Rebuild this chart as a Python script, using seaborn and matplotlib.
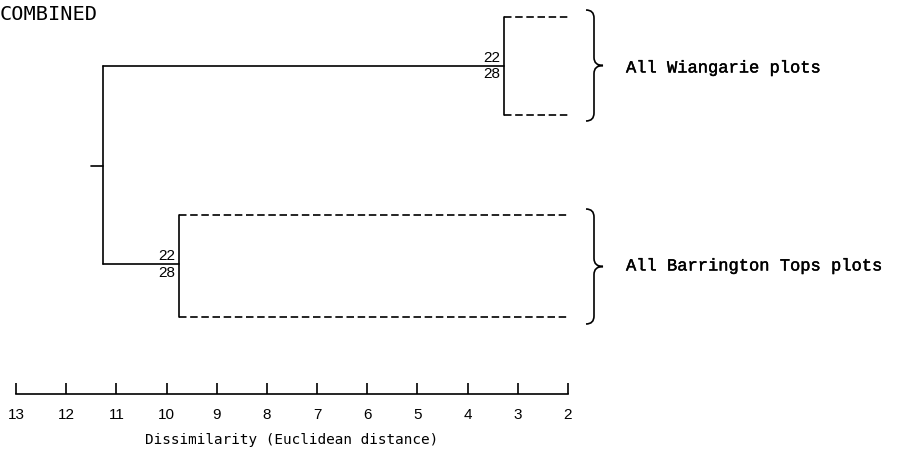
import matplotlib
matplotlib.use("Agg")
import matplotlib.pyplot as plt
from matplotlib.path import Path
from matplotlib.patches import PathPatch
import matplotlib.patheffects as pe
import numpy as np
import pandas as pd
import seaborn as sns

# ---------------- data ----------------
title = "COMBINED"
xlabel = "Dissimilarity (Euclidean distance)"
axis_ticks = [13, 12, 11, 10, 9, 8, 7, 6, 5, 4, 3, 2]
root_stub_start = 11.50          # dissimilarity where root stub begins
root_height = 11.27              # fusion of the two groups
cluster_names = ["All Wiangarie plots", "All Barrington Tops plots"]
cluster_heights = [3.28, 9.75]   # fusion level within each group
leaf_level = 2.0                 # dashed lines run to here
upper_labels = ["22", "22"]
lower_labels = ["28", "28"]

# ---------------- layout (pixels) ----------------
W, H = 897, 461
PX13 = 16.0            # pixel x of value 13
PXU = 50.18            # pixels per unit
def vx(px):
    return 13 - (px - PX13) / PXU
cluster_center_y = [66, 264]
cluster_top_y = [17, 215]
cluster_bot_y = [115, 317]
stub_y = 166
axis_y = 394

sns.set_style("white")
fig = plt.figure(figsize=(W / 100, H / 100), dpi=100)
ax = fig.add_axes([0, 0, 1, 1])
ax.set_xlim(vx(0), vx(W))
ax.set_ylim(H, 0)

# build segments
rows = []
def seg(name, kind, x0, y0, x1, y1):
    rows.append(dict(seg=name, kind=kind, x=x0, y=y0))
    rows.append(dict(seg=name, kind=kind, x=x1, y=y1))

seg("stub", "solid", root_stub_start, stub_y, root_height, stub_y)
seg("root", "solid", root_height, cluster_center_y[0], root_height, cluster_center_y[1])
for i, h in enumerate(cluster_heights):
    seg(f"h{i}", "solid", root_height, cluster_center_y[i], h, cluster_center_y[i])
    seg(f"v{i}", "solid", h, cluster_top_y[i], h, cluster_bot_y[i])
    seg(f"t{i}", "dashed", h, cluster_top_y[i], leaf_level, cluster_top_y[i])
    seg(f"b{i}", "dashed", h, cluster_bot_y[i], leaf_level, cluster_bot_y[i])
df = pd.DataFrame(rows)

sns.lineplot(data=df, x="x", y="y", units="seg", estimator=None, sort=False,
             style="kind", dashes={"solid": "", "dashed": (4.5, 2.2)},
             color="black", linewidth=1.2, legend=False, ax=ax)

# split labels
num_font = "Liberation Sans"
for i, h in enumerate(cluster_heights):
    xr = h + 3.5 / PXU
    ax.text(xr, cluster_center_y[i] - 1.5, upper_labels[i], ha="right", va="bottom",
            fontsize=11, family=num_font, color="black")
    ax.text(xr, cluster_center_y[i] + 1.5, lower_labels[i], ha="right", va="top",
            fontsize=11, family=num_font, color="black")

# braces and group labels
def brace(ytop, ybot):
    ymid = (ytop + ybot) / 2
    xh, xs, xt = vx(586), vx(594), vx(603)
    verts = [(xh, ytop), (xs, ytop), (xs, ytop + 8),
             (xs, ymid - 8), (xs, ymid), (xt, ymid),
             (xs, ymid), (xs, ymid + 8),
             (xs, ybot - 8), (xs, ybot), (xh, ybot)]
    codes = [Path.MOVETO, Path.CURVE3, Path.CURVE3,
             Path.LINETO, Path.CURVE3, Path.CURVE3,
             Path.CURVE3, Path.CURVE3,
             Path.LINETO, Path.CURVE3, Path.CURVE3]
    ax.add_patch(PathPatch(Path(verts, codes), fill=False, lw=1.2, ec="black"))

brace_spans = [(10, 121), (209, 324)]
for i, name in enumerate(cluster_names):
    brace(*brace_spans[i])
    t = ax.text(vx(626), cluster_center_y[i] + 2, name, ha="left", va="center",
                fontsize=12.3, family="Liberation Mono", color="black")
    t.set_path_effects([pe.withStroke(linewidth=0.3, foreground="black")])

# scale axis
for s in ["left", "top", "right"]:
    ax.spines[s].set_visible(False)
ax.spines["bottom"].set_position(("data", axis_y))
ax.spines["bottom"].set_bounds(min(axis_ticks), max(axis_ticks))
ax.spines["bottom"].set_color("black")
ax.spines["bottom"].set_linewidth(1.2)
ax.set_xticks(axis_ticks)
ax.set_xticklabels([str(t) for t in axis_ticks], family=num_font, fontsize=11)
ax.tick_params(axis="x", bottom=True, direction="in", length=8, width=1.2,
               pad=10, colors="black")
ax.set_yticks([])
ax.set_xlabel("")
ax.set_ylabel("")

ax.text(vx(292), 440, xlabel, ha="center", va="center", fontsize=10.4,
        family="DejaVu Sans Mono", color="black")
ax.text(vx(0), 14, title, ha="left", va="center", fontsize=14.6,
        family="DejaVu Sans Mono", color="black")

fig.savefig("out.png", dpi=100, facecolor="white")
